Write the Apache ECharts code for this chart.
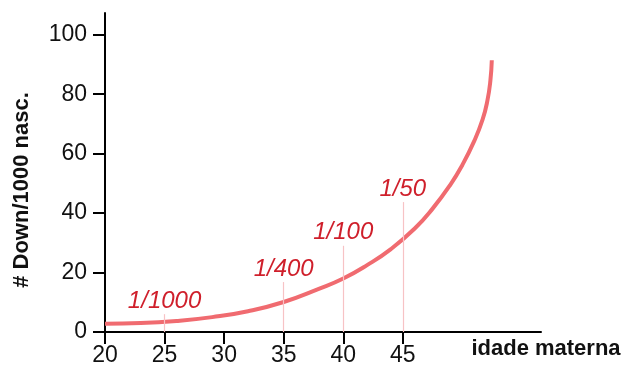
<!DOCTYPE html>
<html><head><meta charset="utf-8">
<script src="https://cdn.jsdelivr.net/npm/echarts@6/dist/echarts.min.js"></script>
<style>html,body{margin:0;padding:0;background:#fff}#c{width:625px;height:372px}</style>
</head><body><div id="c"></div>
<script>
// Curve: Down syndrome births per 1000 vs maternal age
const ages  = [20, 23, 26, 29, 32, 35, 38, 40, 42, 44, 46, 47.5, 49, 50, 51, 51.7, 52.1, 52.35, 52.47];
const risk  = [2.8, 3.0, 3.7, 5.0, 7.0, 10.1, 14.6, 18.0, 22.5, 27.9, 34.8, 41.5, 49.6, 56.2, 64.3, 71.5, 77.8, 84.5, 91.4];
// Marker lines and their labels
const markerAges   = [25, 35, 40, 45];
const markerTops   = [6, 16.8, 29, 43.7];
const markerLabels = ['1/1000', '1/400', '1/100', '1/50'];
// Axis ticks
const xTicks = [20, 25, 30, 35, 40, 45];
const yTicks = [0, 20, 40, 60, 80, 100];
const xTitle = 'idade materna';
const yTitle = '# Down/1000 nasc.';

const chart = echarts.init(document.getElementById('c'), null, {renderer: 'canvas'});
const font = 'Liberation Sans, Arial, sans-serif';
chart.setOption({
  animation: false,
  grid: {left: 105, right: 84, top: 13, bottom: 40},
  xAxis: {
    type: 'value', min: 20, max: 56.6,
    axisLine: {lineStyle: {color: '#000', width: 2}},
    axisTick: {show: true, length: 12, lineStyle: {color: '#000', width: 2}, customValues: xTicks},
    axisLabel: {customValues: xTicks, color: '#111', fontSize: 23, fontFamily: font, margin: 12},
    splitLine: {show: false}
  },
  yAxis: {
    type: 'value', min: 0, max: 107.3,
    axisLine: {show: true, lineStyle: {color: '#000', width: 2}},
    axisTick: {show: true, length: 12, lineStyle: {color: '#000', width: 2}, customValues: yTicks},
    axisLabel: {customValues: yTicks, color: '#111', fontSize: 23, fontFamily: font, margin: 18},
    splitLine: {show: false}
  },
  graphic: [
    {type: 'text', x: 22, y: 190, rotation: Math.PI / 2,
     style: {text: yTitle, fontSize: 22, fontWeight: 'bold', fontFamily: font, fill: '#111', align: 'center', verticalAlign: 'middle'}},
    {type: 'text', x: 546, y: 349,
     style: {text: xTitle, fontSize: 22, fontWeight: 'bold', fontFamily: font, fill: '#111', align: 'center', verticalAlign: 'middle'}}
  ],
  series: [
    {
      type: 'line', smooth: 0.5, symbol: 'none',
      data: ages.map((a, i) => [a, risk[i]]),
      lineStyle: {color: '#f06b70', width: 4},
      z: 3,
      markLine: {
        silent: true, symbol: 'none',
        lineStyle: {color: '#f7c3c5', width: 1.2, type: 'solid'},
        label: {show: true, position: 'end', color: '#cf1f2b', fontStyle: 'italic', fontSize: 24, fontFamily: font, distance: 1,
                formatter: p => p.name},
        data: markerAges.map((a, i) => [{coord: [a, 0], name: markerLabels[i]}, {coord: [a, markerTops[i]]}])
      }
    }
  ]
});
</script></body></html>
